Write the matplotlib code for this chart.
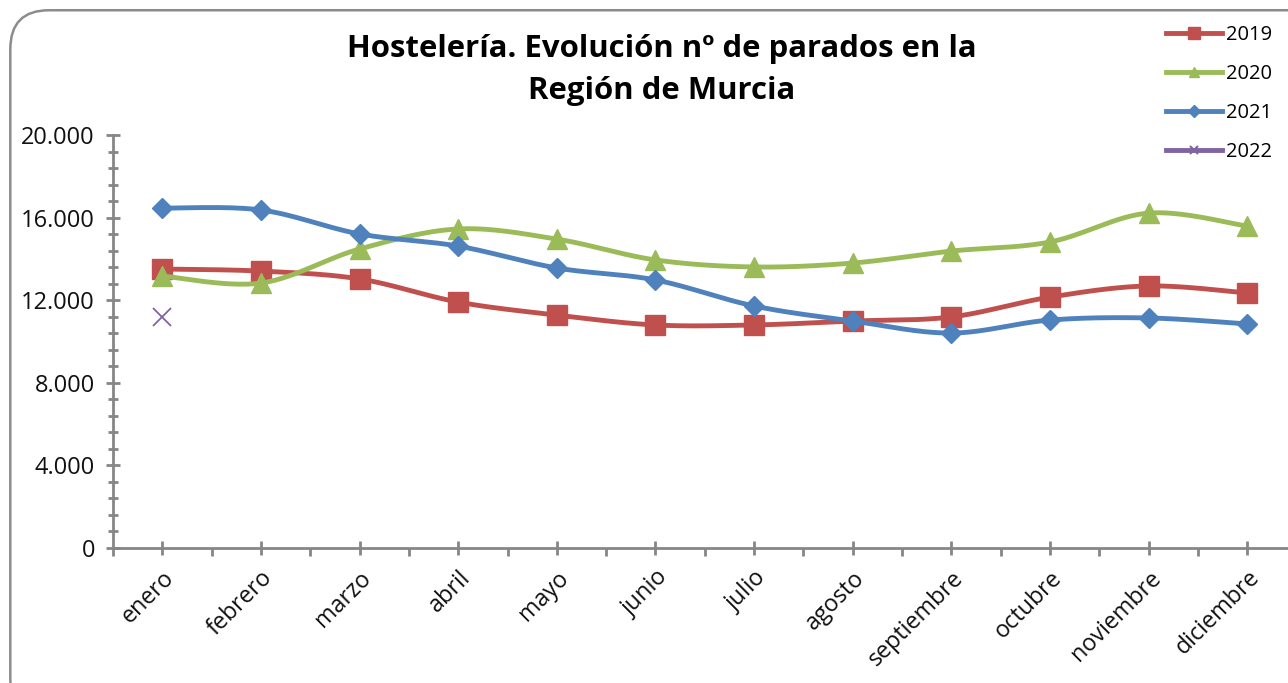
import numpy as np
import matplotlib.pyplot as plt
from matplotlib.patches import FancyBboxPatch

plt.rcParams['font.family'] = ['Open Sans', 'DejaVu Sans']

meses = ['enero', 'febrero', 'marzo', 'abril', 'mayo', 'junio', 'julio',
         'agosto', 'septiembre', 'octubre', 'noviembre', 'diciembre']
p2019 = [13510, 13410, 13030, 11910, 11280, 10800, 10800, 10990, 11190, 12150, 12690, 12350]
p2020 = [13170, 12830, 14480, 15450, 14960, 13950, 13610, 13800, 14380, 14820, 16220, 15590]
p2021 = [16460, 16370, 15210, 14620, 13560, 12980, 11720, 10990, 10410, 11040, 11140, 10850]
p2022 = [11190]


def suave(x, y, n=30):
    # curva suavizada tipo Excel (bezier con puntos de control a 1/6)
    x = np.asarray(x, float)
    y = np.asarray(y, float)
    px = np.r_[x[0], x, x[-1]]
    py = np.r_[y[0], y, y[-1]]
    xs, ys = [], []
    t = np.linspace(0, 1, n)
    for i in range(1, len(x)):
        x0, y0 = px[i], py[i]
        x3, y3 = px[i + 1], py[i + 1]
        x1 = x0 + (px[i + 1] - px[i - 1]) / 6
        y1 = y0 + (py[i + 1] - py[i - 1]) / 6
        x2 = x3 - (px[i + 2] - px[i]) / 6
        y2 = y3 - (py[i + 2] - py[i]) / 6
        xs.append((1-t)**3*x0 + 3*(1-t)**2*t*x1 + 3*(1-t)*t**2*x2 + t**3*x3)
        ys.append((1-t)**3*y0 + 3*(1-t)**2*t*y1 + 3*(1-t)*t**2*y2 + t**3*y3)
    return np.concatenate(xs), np.concatenate(ys)


fig = plt.figure(figsize=(12.88, 6.83), dpi=100)
borde = FancyBboxPatch((0.008, -0.05), 1.1, 1.035, boxstyle='round,pad=0,rounding_size=0.03',
                       transform=fig.transFigure, fc='white', ec='#8c8c8c', lw=1.8,
                       mutation_aspect=1.9, zorder=-1)
fig.patches.append(borde)

# el eje horizontal sigue más allá del borde derecho, como en el original recortado
ax = fig.add_axes([0.0877, 0.1977, 0.919, 0.6046])
ax.patch.set_alpha(0)
x = np.arange(len(meses))

series = [('2019', p2019, '#C0504D', 's', 14.5, 8),
          ('2020', p2020, '#9BBB59', '^', 14, 7),
          ('2021', p2021, '#4F81BD', 'D', 10.5, 6)]
for nombre, vals, col, mk, ms, msl in series:
    sx, sy = suave(x, vals)
    ax.plot(sx, sy, color=col, lw=3.5, solid_capstyle='round')
    ax.plot(x, vals, ls='none', marker=mk, ms=ms, color=col)
    ax.plot([], [], color=col, lw=3.5, marker=mk, ms=msl, label=nombre)
ax.plot(x[:len(p2022)], p2022, ls='none', marker='x', ms=13, mew=1.3, color='#8064A2')
ax.plot([], [], color='#8064A2', lw=3.5, marker='x', ms=6, mew=1.5, label='2022')

ax.set_xlim(-0.5, 11.5)
ax.set_ylim(0, 20000)
ax.set_yticks(np.arange(0, 20001, 4000))
ax.set_yticklabels(['0', '4.000', '8.000', '12.000', '16.000', '20.000'])
ax.set_yticks(np.arange(0, 20001, 800), minor=True)
ax.set_xticks(x)
ax.set_xticklabels(meses, rotation=45, ha='right', rotation_mode='anchor')
ax.set_xticks(np.arange(-0.5, 11.6, 1), minor=True)

for s in ['top', 'right']:
    ax.spines[s].set_visible(False)
for s in ['left', 'bottom']:
    ax.spines[s].set_color('#868686')
    ax.spines[s].set_linewidth(2)
ax.tick_params(axis='both', which='major', direction='inout', length=10, width=2,
               color='#868686', labelcolor='#111111')
ax.tick_params(axis='y', which='major', labelsize=17, pad=8)
ax.tick_params(axis='x', which='major', labelsize=16.8, pad=8)
ax.tick_params(axis='y', which='minor', direction='inout', length=7, width=2, color='#868686')
ax.tick_params(axis='x', which='minor', direction='out', length=6, width=2, color='#868686')

fig.text(0.514, 0.898, 'Hostelería. Evolución nº de parados en la\nRegión de Murcia',
         ha='center', va='center', fontsize=22.4, fontweight='bold', linespacing=1.52)

fig.legend(loc='upper right', bbox_to_anchor=(1.002, 0.99), frameon=False,
           fontsize=14.5, handlelength=2.8, labelspacing=0.95, handletextpad=0.2)

fig.savefig('out.png', dpi=100)
